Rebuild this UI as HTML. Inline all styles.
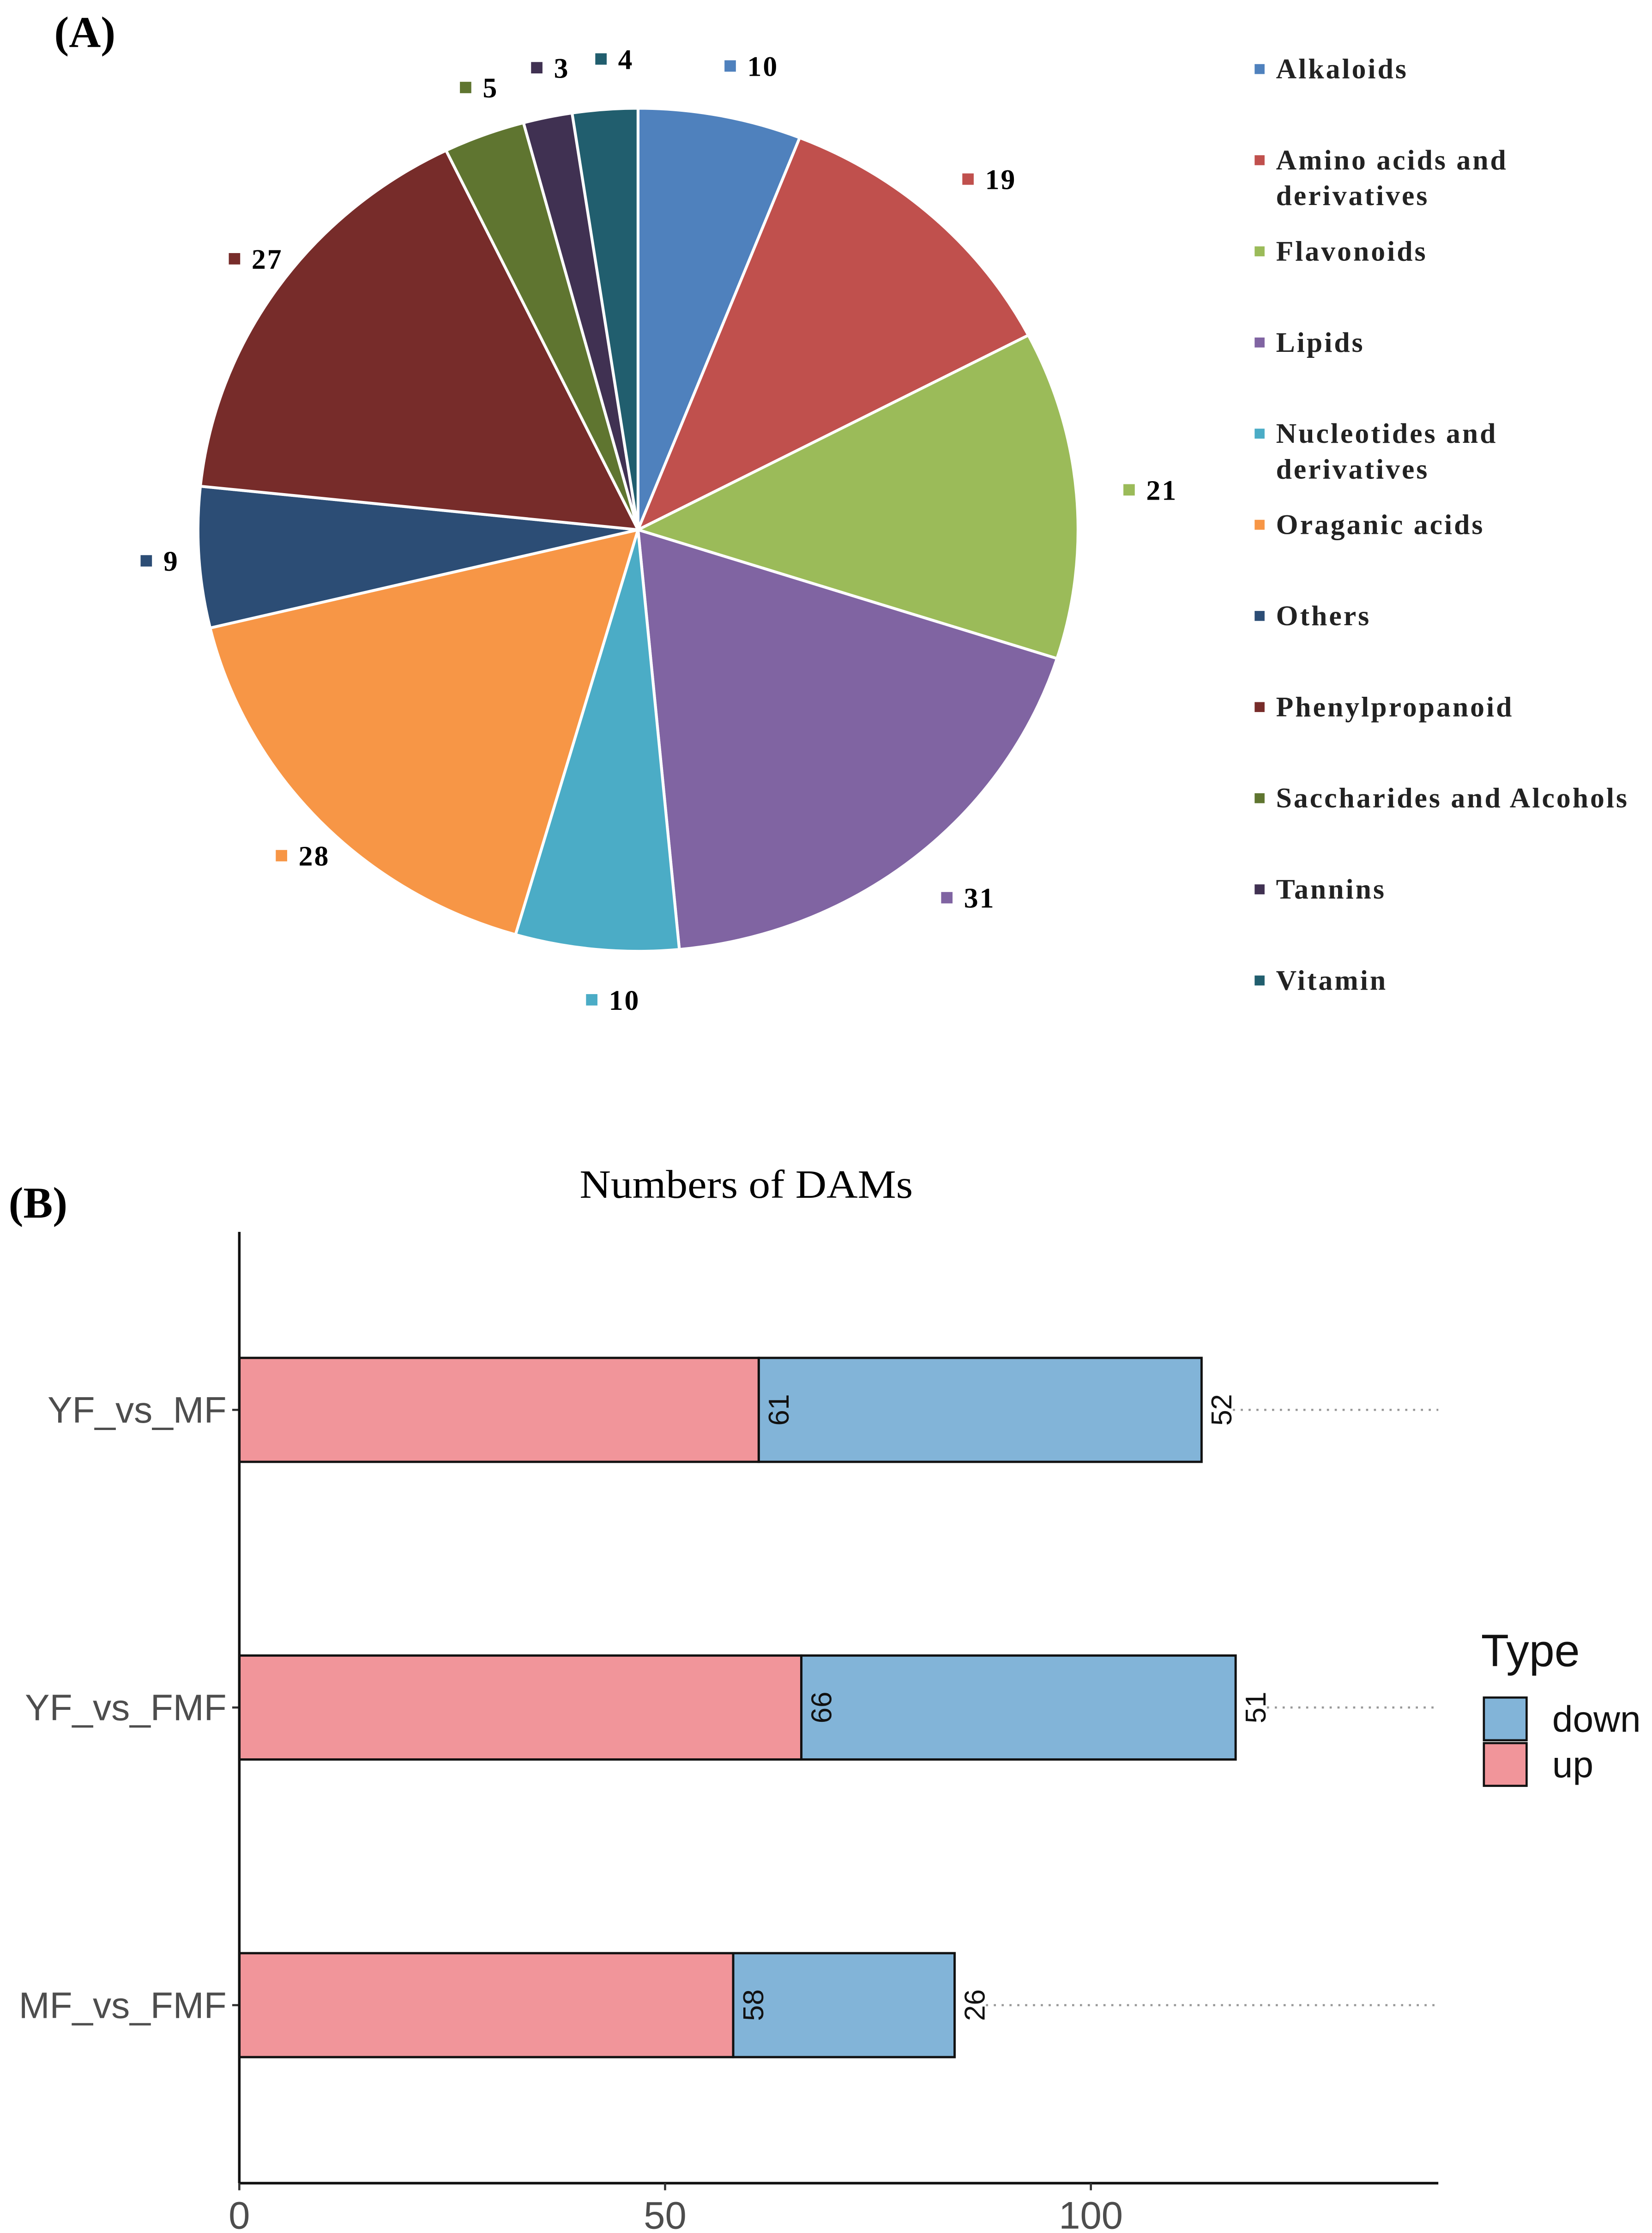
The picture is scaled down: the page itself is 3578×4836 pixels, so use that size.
<!DOCTYPE html>
<html><head><meta charset="utf-8"><style>
html,body{margin:0;padding:0;background:#fff;}
svg{display:block;}
</style></head><body>
<svg id="fig" width="3578" height="4836" viewBox="0 0 1160 1568" xmlns="http://www.w3.org/2000/svg">
<rect width="1160" height="1568" fill="#fff"/>
<text x="38" y="33" font-family="Liberation Serif, serif" font-weight="bold" font-size="31">(A)</text>
<g id="pie"></g>
<g id="pielegend"></g>
<text x="6" y="855" font-family="Liberation Serif, serif" font-weight="bold" font-size="31">(B)</text>
<text x="524" y="841" text-anchor="middle" font-family="Liberation Serif, serif" font-size="28" textLength="234" lengthAdjust="spacingAndGlyphs">Numbers of DAMs</text>
<g id="bars"></g>
</svg>
<script>
const pieCategories = ["Alkaloids","Amino acids and derivatives","Flavonoids","Lipids","Nucleotides and derivatives","Oraganic acids","Others","Phenylpropanoid","Saccharides and Alcohols","Tannins","Vitamin"];
const pieValues = [10,19,21,31,10,28,9,27,5,3,4];
const pieColors = ["#4F81BD","#C0504D","#9BBB59","#8064A2","#4BACC6","#F79646","#2C4D75","#772C2A","#5F7530","#403152","#215E6E"];
const legendLines = [["Alkaloids"],["Amino acids and","derivatives"],["Flavonoids"],["Lipids"],["Nucleotides and","derivatives"],["Oraganic acids"],["Others"],["Phenylpropanoid"],["Saccharides and Alcohols"],["Tannins"],["Vitamin"]];

const barCategories = ["YF_vs_MF","YF_vs_FMF","MF_vs_FMF"];
const upValues = [61,66,58];
const downValues = [52,51,26];
const xTicks = [0,50,100];

const NS="http://www.w3.org/2000/svg";
function mk(tag,attrs,parent){const e=document.createElementNS(NS,tag);for(const k in attrs)e.setAttribute(k,attrs[k]);parent.appendChild(e);return e;}

// Pie
const pie=document.getElementById('pie');
const cx=448,cy=372,rx=309,ry=296;
const total=pieValues.reduce((a,b)=>a+b,0);
let acc=0;
pieValues.forEach((v,i)=>{
  const a0=acc/total*2*Math.PI, a1=(acc+v)/total*2*Math.PI;
  const x0=cx+rx*Math.sin(a0), y0=cy-ry*Math.cos(a0);
  const x1=cx+rx*Math.sin(a1), y1=cy-ry*Math.cos(a1);
  const large=(a1-a0)>Math.PI?1:0;
  const p=mk('path',{d:`M${cx},${cy} L${x0},${y0} A${rx},${ry} 0 ${large} 1 ${x1},${y1} Z`,fill:pieColors[i],stroke:'#fff','stroke-width':2},pie);
  
  
  const am=(a0+a1)/2;
  const lx=cx+rx*1.12*Math.sin(am), ly=cy-ry*1.12*Math.cos(am);
  const m=mk('rect',{x:lx-4,y:ly-4,width:8,height:8,fill:pieColors[i]},pie);
  
  
  const t=mk('text',{x:lx+12,y:ly+7,'font-family':'Liberation Serif, serif','font-weight':'bold','font-size':20,'letter-spacing':1},pie);
  
  
  t.textContent=v;
  acc+=v;
});
const leg=document.getElementById('pielegend');
legendLines.forEach((lines,i)=>{
  const y=49+i*64;
  const r=mk('rect',{x:881,y:y-4,width:7,height:7,fill:pieColors[i]},leg);
  
  
  lines.forEach((ln,j)=>{
    const t=mk('text',{x:896,y:y+6+j*25,'font-family':'Liberation Serif, serif','font-weight':'bold','font-size':20,'letter-spacing':1.3,fill:'#222'},leg);
    
    
    t.textContent=ln;
  });
});

// Bars
const bars=document.getElementById('bars');
const x0=168, pxPer=(467-168)/50, xEnd=1010, yTop=865, yBot=1533;
const xs=v=>x0+v*pxPer;
const yCenters=[990,1199,1408], bh=73;
barCategories.forEach((c,i)=>{
  const yc=yCenters[i], u=upValues[i], d=downValues[i];
  const endX=xs(u+d);
  const dl=mk('line',{x1:endX+22,y1:yc,x2:xEnd,y2:yc,stroke:'#999','stroke-width':1.5,'stroke-dasharray':'1.5,4'},bars);
  
  
  const ru=mk('rect',{x:xs(0),y:yc-bh/2,width:xs(u)-xs(0),height:bh,fill:'#F1959A',stroke:'#111','stroke-width':1.6},bars);
  
  
  const rd=mk('rect',{x:xs(u),y:yc-bh/2,width:xs(u+d)-xs(u),height:bh,fill:'#82B4D8',stroke:'#111','stroke-width':1.6},bars);
  
  
  [[xs(u)+21,u],[endX+21,d]].forEach(([lx,val])=>{
    const t=mk('text',{x:0,y:0,transform:`translate(${lx},${yc}) rotate(-90)`,'text-anchor':'middle','font-family':'Liberation Sans, sans-serif','font-size':20,fill:'#111'},bars);
    
    
    t.textContent=val;
  });
  const tk=mk('line',{x1:163,y1:yc,x2:168,y2:yc,stroke:'#333','stroke-width':1.5},bars);
  
  
  const tl=mk('text',{x:159,y:yc+9,'text-anchor':'end','font-family':'Liberation Sans, sans-serif','font-size':26,fill:'#4d4d4d'},bars);
  
  
  tl.textContent=c;
});
const ya=mk('line',{x1:x0,y1:yTop,x2:x0,y2:yBot,stroke:'#111','stroke-width':1.8},bars);


const xa=mk('line',{x1:x0,y1:yBot,x2:xEnd,y2:yBot,stroke:'#111','stroke-width':1.8},bars);


xTicks.forEach(v=>{
  const tk=mk('line',{x1:xs(v),y1:yBot,x2:xs(v),y2:yBot+5,stroke:'#333','stroke-width':1.5},bars);
  
  
  const t=mk('text',{x:xs(v),y:yBot+32,'text-anchor':'middle','font-family':'Liberation Sans, sans-serif','font-size':27,fill:'#4d4d4d'},bars);
  
  
  t.textContent=v;
});
// legend
const lt=mk('text',{x:1040,y:1170,'font-family':'Liberation Sans, sans-serif','font-size':32,fill:'#111'},bars);


lt.textContent='Type';
[['down','#82B4D8',1192],['up','#F1959A',1224]].forEach(([n,col,y])=>{
  const r=mk('rect',{x:1042,y:y,width:30,height:30,fill:col,stroke:'#111','stroke-width':1.5},bars);
  
  
  const t=mk('text',{x:1090,y:y+24,'font-family':'Liberation Sans, sans-serif','font-size':26,fill:'#111'},bars);
  
  
  t.textContent=n;
});
</script>
</body></html>
